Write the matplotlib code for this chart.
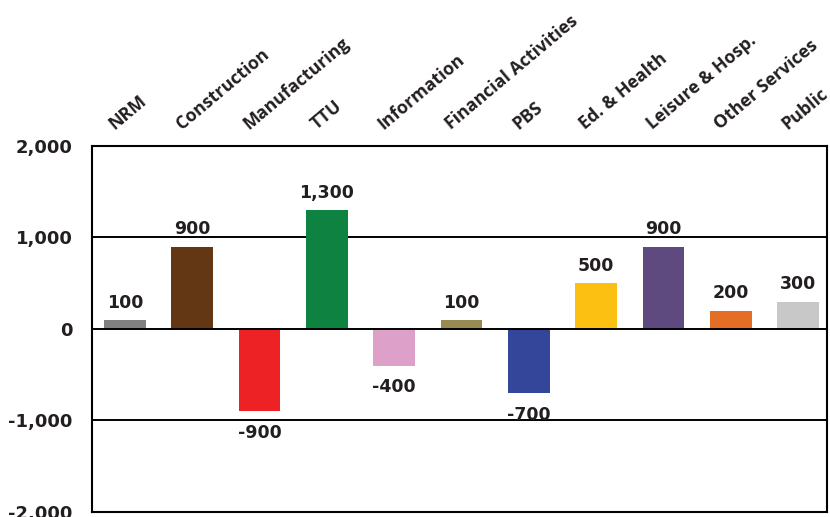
import matplotlib

matplotlib.use("Agg")
import matplotlib.pyplot as plt
import matplotlib.transforms as mtransforms
from matplotlib.ticker import FuncFormatter

# Job change by supersector
sectors = ["NRM", "Construction", "Manufacturing", "TTU", "Information",
           "Financial Activities", "PBS", "Ed. & Health", "Leisure & Hosp.",
           "Other Services", "Public"]
changes = [100, 900, -900, 1300, -400, 100, -700, 500, 900, 200, 300]
colors = ["#808080", "#633713", "#ED2224", "#0E8341", "#DDA0C8", "#958B53",
          "#34469A", "#FCC013", "#5E4A7E", "#E46E25", "#C8C8C8"]
yticks = [-2000, -1000, 0, 1000, 2000]

plt.rcParams["font.family"] = ["Open Sans", "DejaVu Sans"]
text_color = "#231F20"
num_font = "DejaVu Sans"

fig = plt.figure(figsize=(8.3, 5.17), dpi=100)
ax = fig.add_axes([0.1108, 0.0097, 0.8856, 0.7079])

x = list(range(len(sectors)))
ax.bar(x, changes, width=0.62, color=colors, zorder=3)

ax.set_xlim(-0.49, 10.43)
ax.set_ylim(-2000, 2000)
ax.set_yticks(yticks)
ax.yaxis.set_major_formatter(FuncFormatter(lambda v, _: f"{int(v):,}"))
ax.tick_params(axis="y", length=0, pad=14, labelcolor=text_color)
for lbl in ax.get_yticklabels():
    lbl.set_fontweight("bold")
    lbl.set_fontfamily(num_font)
    lbl.set_fontsize(13)
ax.set_xticks([])

for y in [-1000, 0, 1000]:
    ax.axhline(y, color="black", lw=1.4, zorder=4 if y == 0 else 1)
for side in ["left", "right", "top", "bottom"]:
    ax.spines[side].set_linewidth(1.5)
    ax.spines[side].set_color("black")

# value labels
for xi, v in zip(x, changes):
    if v >= 0:
        ax.annotate(f"{v:,}", (xi, v), xytext=(0, 6), textcoords="offset points",
                    ha="center", va="bottom", fontsize=12.5, fontweight="bold",
                    family=num_font, color=text_color)
    else:
        ax.annotate(f"{v:,}", (xi, v), xytext=(0, -9), textcoords="offset points",
                    ha="center", va="top", fontsize=12.5, fontweight="bold",
                    family=num_font, color=text_color)

# rotated category labels above the plot
trans = mtransforms.blended_transform_factory(ax.transData, ax.transAxes)
for xi, name in zip(x, sectors):
    ax.text(xi - 0.12, 1.035, name, transform=trans, rotation=40,
            rotation_mode="anchor", ha="left", va="bottom", fontsize=12.8,
            fontweight="bold", color=text_color)

fig.savefig("out.png", dpi=100)
